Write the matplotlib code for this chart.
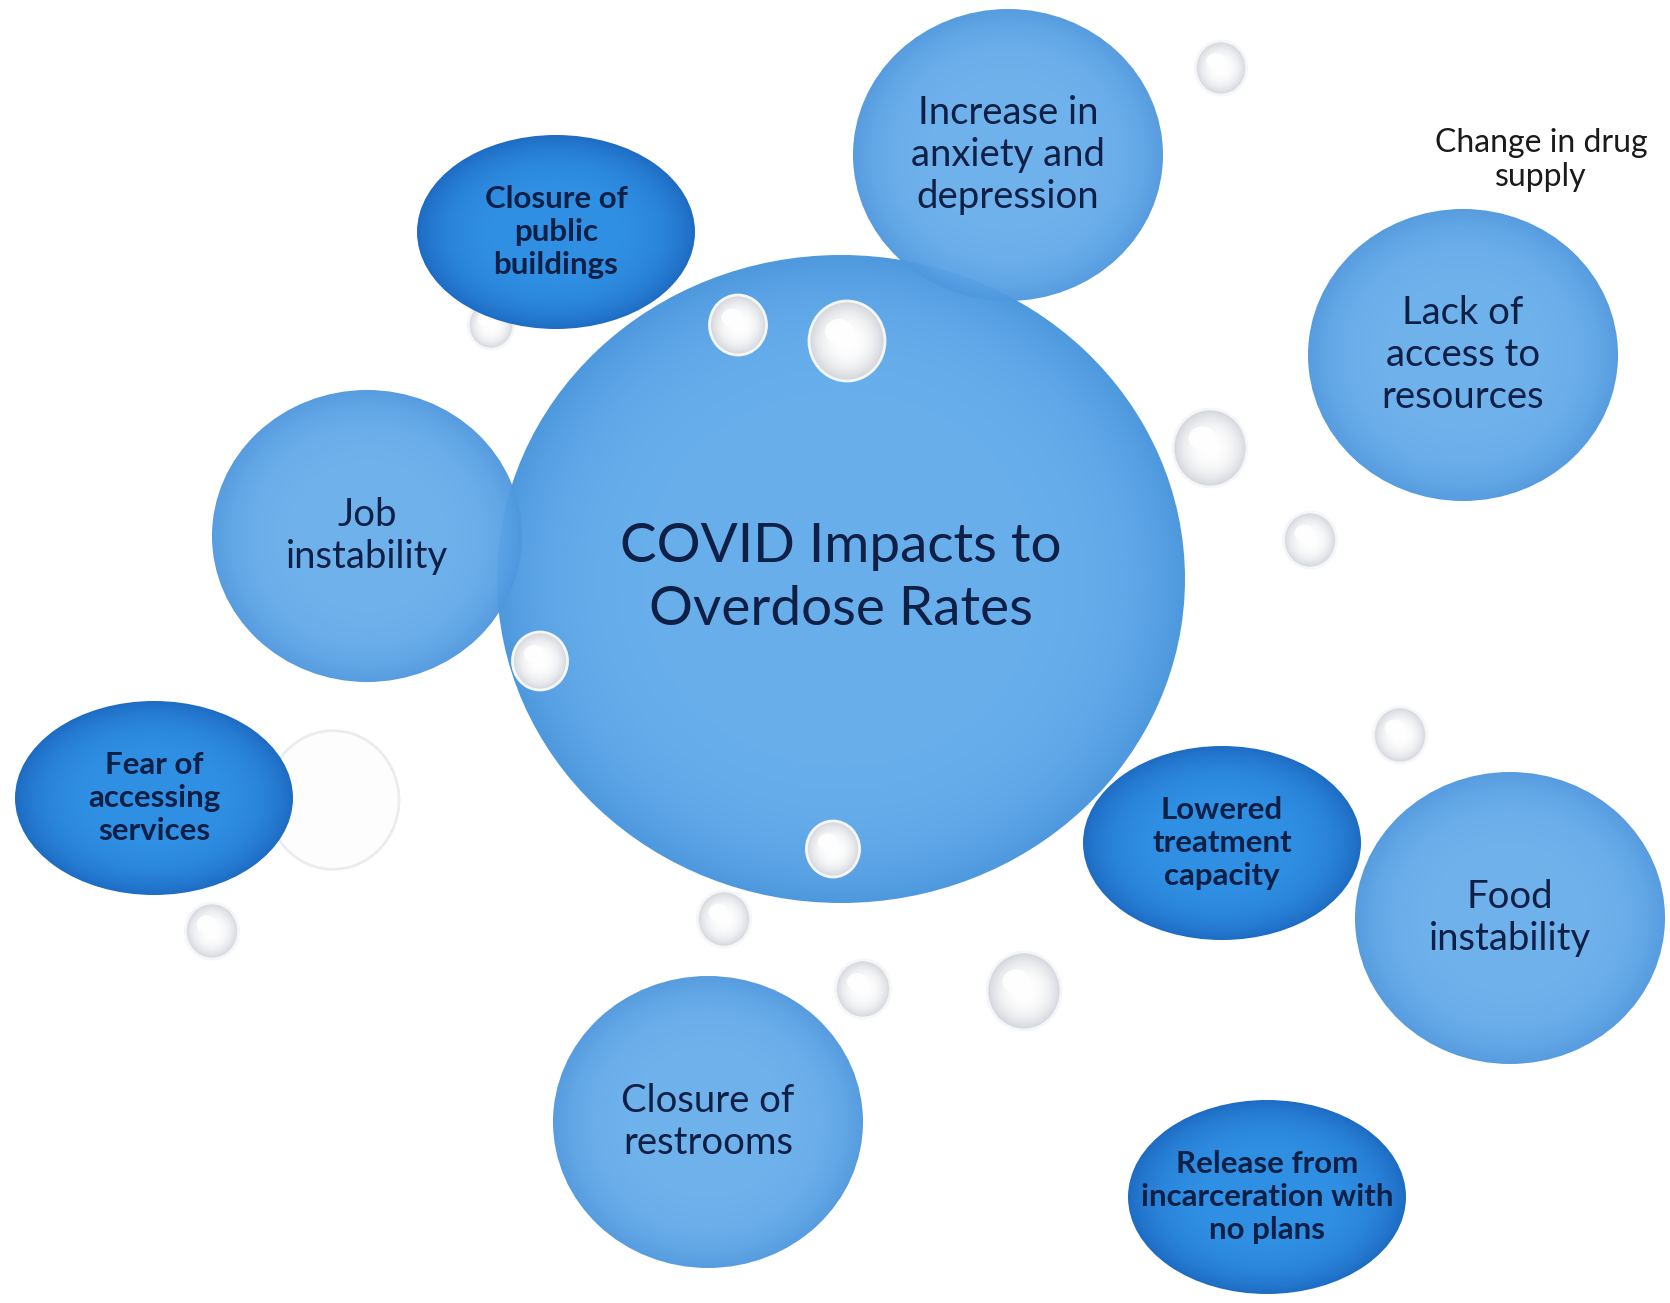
import numpy as np
import matplotlib
matplotlib.use("Agg")
import matplotlib.pyplot as plt
from matplotlib.patches import Ellipse

# ---------------- data ----------------
center_label = "COVID Impacts to\nOverdose Rates"

light_labels = ["Increase in\nanxiety and\ndepression", "Job\ninstability",
                "Lack of\naccess to\nresources", "Closure of\nrestrooms", "Food\ninstability"]
light_x = [1008, 367, 1463, 708, 1510]
light_y = [155, 536, 355, 1122, 918]

dark_labels = ["Closure of\npublic\nbuildings", "Fear of\naccessing\nservices",
               "Lowered\ntreatment\ncapacity", "Release from\nincarceration with\nno plans"]
dark_x = [556, 154, 1222, 1267]
dark_y = [232, 798, 843, 1197]

free_label = "Change in drug\nsupply"
free_x, free_y = 1541, 160

pearl_x = [1221, 738, 847, 1210, 1310, 540, 212, 833, 724, 863, 1024, 1400, 491]
pearl_y = [68, 325, 341, 448, 540, 661, 931, 849, 919, 989, 991, 735, 325]
pearl_r = [27, 30, 40, 39, 28, 29, 28, 28, 28, 29, 39, 28, 24]

ghost_x, ghost_y, ghost_r = 333, 800, 66

# ---------------- style ----------------
W, H = 1670, 1303
CEN = dict(x=841, y=579, rx=344, ry=324)
LIGHT_RX, LIGHT_RY = 155, 146
DARK_RX, DARK_RY = 139, 97
TEXT_COLOR = "#0f1f45"
FONT = ["Lato", "DejaVu Sans"]

fig = plt.figure(figsize=(W / 100, H / 100), dpi=100)
ax = fig.add_axes([0, 0, 1, 1])
ax.set_axis_off()


def shaded(cx, cy, rx, ry, inner, outer, z, power=3.0, alpha=1.0, edge=None, lw=1.5):
    inner = np.array(inner, float) / 255
    outer = np.array(outer, float) / 255
    n = 300
    yy, xx = np.mgrid[-1:1:n * 1j, -1:1:n * 1j]
    r = np.clip(np.sqrt(xx ** 2 + yy ** 2), 0, 1)
    t = r ** power
    img = inner * (1 - t)[..., None] + outer * t[..., None]
    e = Ellipse((cx, cy), 2 * rx, 2 * ry, facecolor="none", edgecolor="none")
    ax.add_patch(e)
    im = ax.imshow(img, extent=(cx - rx, cx + rx, cy + ry, cy - ry), zorder=z,
                   interpolation="bilinear", alpha=alpha)
    im.set_clip_path(e)
    if edge is not None:
        ax.add_patch(Ellipse((cx, cy), 2 * rx, 2 * ry, facecolor="none",
                             edgecolor=edge, lw=lw, zorder=z + 0.01))


LIGHT_IN, LIGHT_OUT = (104, 175, 236), (78, 152, 222)
DARK_IN, DARK_OUT = (48, 145, 228), (30, 108, 196)

# ghost circle behind "Fear of"
ax.add_patch(Ellipse((ghost_x, ghost_y), 2 * ghost_r, 2.1 * ghost_r, facecolor="#fdfdfd",
                     edgecolor="#ececec", lw=2, zorder=1))

# central bubble
shaded(CEN["x"], CEN["y"], CEN["rx"], CEN["ry"], LIGHT_IN, LIGHT_OUT, 3, power=6)

# light bubbles
for lbl, x, y in zip(light_labels, light_x, light_y):
    shaded(x, y, LIGHT_RX, LIGHT_RY, LIGHT_IN, LIGHT_OUT, 4, power=5, alpha=0.96)
    ax.text(x, y, lbl, ha="center", va="center", fontsize=27.5, color=TEXT_COLOR,
            family=FONT, linespacing=1.22, zorder=10)

# dark bubbles
for lbl, x, y in zip(dark_labels, dark_x, dark_y):
    shaded(x, y, DARK_RX, DARK_RY, DARK_IN, DARK_OUT, 4, power=4)
    ax.text(x, y, lbl, ha="center", va="center", fontsize=22.5, color=TEXT_COLOR,
            family=FONT, fontweight="bold", linespacing=1.22, zorder=10)

# pearls
for x, y, r in zip(pearl_x, pearl_y, pearl_r):
    z = 5 if not (x == 491 and y == 325) else 2
    shaded(x, y, r * 0.95, r, (255, 255, 255), (208, 211, 217), z, power=2.5,
           edge="#f4f6f8", lw=2)
    ax.add_patch(Ellipse((x - r * 0.2, y - r * 0.25), r * 0.7, r * 0.6,
                         facecolor="white", edgecolor="none", alpha=0.9, zorder=z + 0.02))

# central text
ax.text(CEN["x"], CEN["y"] - 1, center_label, ha="center", va="center", fontsize=39.5,
        color=TEXT_COLOR, family=FONT, linespacing=1.33, zorder=10)

# free text
ax.text(free_x, free_y, free_label, ha="center", va="center", fontsize=23,
        color="#1a1a1a", family=FONT, linespacing=1.15, zorder=10)

ax.set_xlim(0, W)
ax.set_ylim(H, 0)
ax.set_aspect("auto")
fig.savefig("out.png", dpi=100, facecolor="white")
